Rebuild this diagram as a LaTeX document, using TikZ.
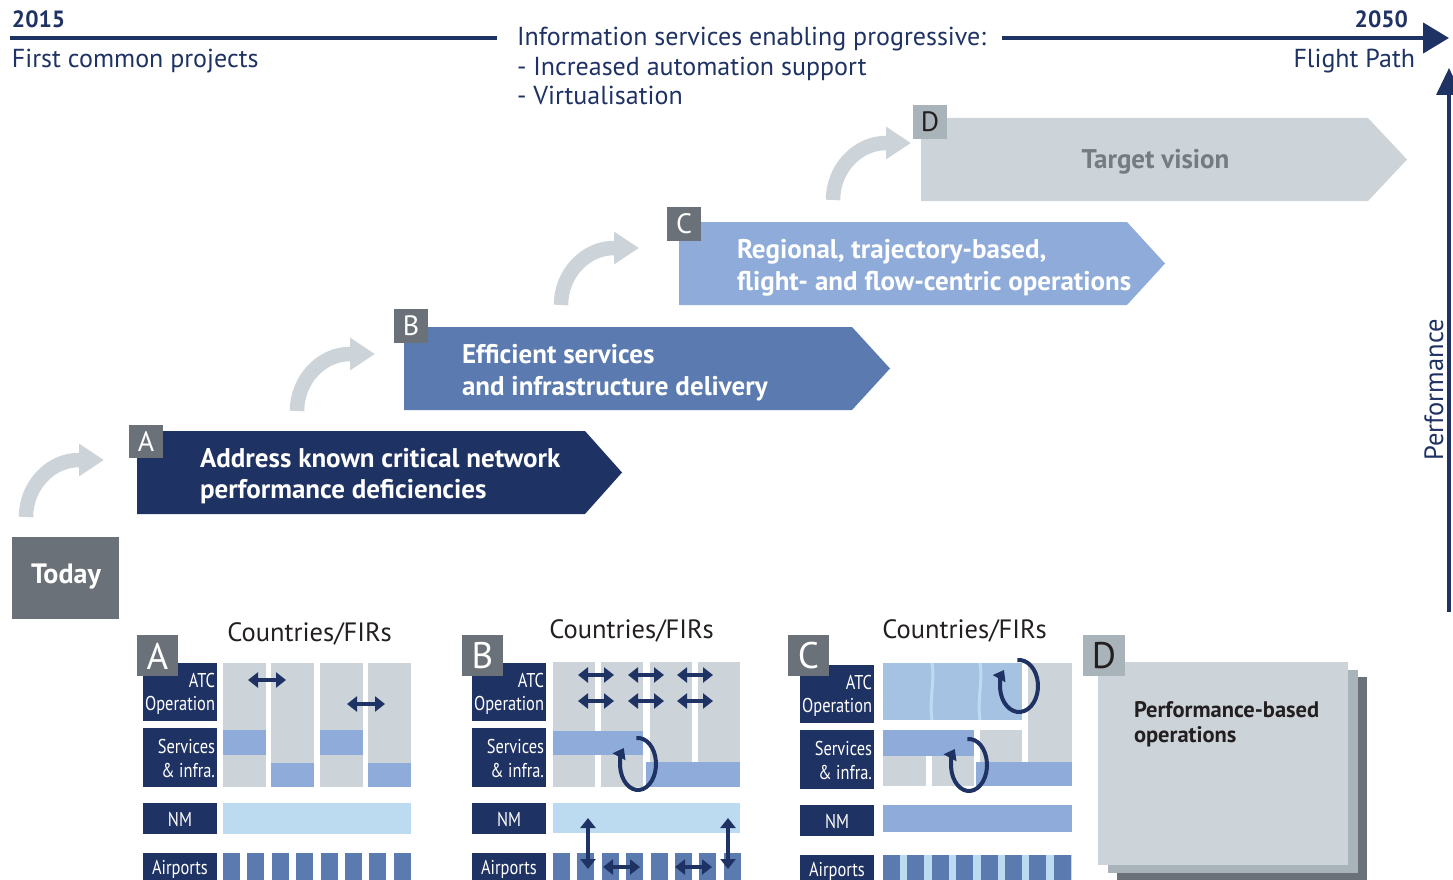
\documentclass[tikz,border=0pt]{standalone}
\usepackage{fontspec}
\setmainfont{PT Sans}
\newfontfamily\condfont[FakeStretch=0.82]{PT Sans}
\usetikzlibrary{arrows.meta,calc}
\definecolor{navy}{HTML}{1F3264}
\definecolor{slate}{HTML}{6B7178}
\definecolor{lgray}{HTML}{CCD4D9}
\definecolor{mgray}{HTML}{A9B3BA}
\definecolor{steel}{HTML}{5A7AB0}
\definecolor{cblue}{HTML}{8EABD9}
\definecolor{pale}{HTML}{BDDBF0}
\definecolor{atcc}{HTML}{A5C2E2}
\definecolor{txt}{HTML}{231F20}
\definecolor{tgray}{HTML}{747C82}
\newcommand\fsz[1]{\fontsize{#1}{#1}\selectfont}
\tikzset{
  plain/.style={inner sep=0pt, outer sep=0pt},
  toptxt/.style={plain, text=navy, font=\fsz{26}},
  stairtxt/.style={plain, text=white, font=\bfseries\fsz{27}, anchor=base west},
  stairlbl/.style={plain, text=white, font=\fsz{28}},
  panellbl/.style={plain, text=white, font=\fsz{37}},
  rowtxt/.style={plain, text=white, font=\condfont\fsz{20}},
  ctry/.style={plain, text=txt, font=\fsz{26.5}, anchor=base},
  dbl/.style={navy, line width=4pt, {Triangle[length=10pt,width=15pt]}-{Triangle[length=10pt,width=15pt]}},
  circarrow/.style={navy, line width=4pt, -{Triangle[length=10pt,width=14pt]}},
  bendarrow/.style={lgray, line width=14.5pt, -{Triangle[length=25pt,width=31pt]}},
}
\begin{document}
\begin{tikzpicture}[x=1pt,y=-1pt]
\useasboundingbox (0,0) rectangle (1453,880);

% ---------- timeline ----------
\node[toptxt, font=\bfseries\fsz{23.5}, anchor=base west] (y2015) at (12,28) {2015};
\node[toptxt, anchor=base west] (fcp) at (12,68) {First common projects};
\coordinate (tlA) at (10,38);
\coordinate (tlB) at (497,38);
\draw[navy, line width=4.5pt] (tlA) -- (tlB);
\node[toptxt, anchor=base west] (info1) at (517,46) {Information services enabling progressive:};
\node[toptxt, anchor=base west] (info2) at (517,76) {- Increased automation support};
\node[toptxt, anchor=base west] (info3) at (517,105) {- Virtualisation};
\coordinate (tlC) at (1002,38);
\coordinate (tlD) at (1449,38);
\draw[navy, line width=4.5pt, -{Triangle[length=26pt,width=30pt]}] (tlC) -- (tlD);
\node[toptxt, font=\bfseries\fsz{23.5}, anchor=base east] (y2050) at (1408,28) {2050};
\node[toptxt, anchor=base east] (fpath) at (1415,68) {Flight Path};

% performance axis
\coordinate (pfA) at (1449,612);
\coordinate (pfB) at (1449,68);
\draw[navy, line width=3.5pt, -{Triangle[length=27pt,width=25pt]}] (pfA) -- (pfB);
\node[toptxt, font=\fsz{26.5}, rotate=90] (perf) at (1434,390) {Performance};

% ---------- stair arrows ----------
\fill[navy] (137,431) -- (585,431) -- (622,472.5) -- (585,514) -- (137,514) -- cycle;
\fill[steel] (404,327) -- (852,327) -- (890,368.5) -- (852,410) -- (404,410) -- cycle;
\fill[cblue] (679,222) -- (1127,222) -- (1165,263.5) -- (1127,305) -- (679,305) -- cycle;
\fill[lgray] (921,118) -- (1368,118) -- (1407,159.5) -- (1368,201) -- (921,201) -- cycle;

\fill[slate] (129,425) rectangle (163,458);
\node[stairlbl] (sA) at (146,441.5) {A};
\fill[slate] (394,309) rectangle (428,343);
\node[stairlbl] (sB) at (411,326) {B};
\fill[slate] (667,207) rectangle (701,241);
\node[stairlbl] (sC) at (684,224) {C};
\fill[mgray] (913,105) rectangle (947,139);
\node[stairlbl, text=txt] (sD) at (930,122) {D};

\node[stairtxt] (tA1) at (200,467) {Address known critical network};
\node[stairtxt] (tA2) at (200,498) {performance deficiencies};
\node[stairtxt] (tB1) at (462,363) {Efficient services};
\node[stairtxt] (tB2) at (462,395) {and infrastructure delivery};
\node[stairtxt] (tC1) at (737,258) {Regional, trajectory-based,};
\node[stairtxt] (tC2) at (737,290) {flight- and flow-centric operations};
\node[stairtxt, text=tgray, anchor=base] (tD) at (1155.5,168) {Target vision};

% today
\fill[slate] (12,537) rectangle (119,619);
\node[plain, text=white, font=\bfseries\fsz{28}] (today) at (66,577) {Today};

% curved step arrows
\foreach \sx/\sy/\nm in {26/517/one, 297/411/two, 561/305/three, 833/200/four}{
  \coordinate (\nm s) at (\sx,\sy);
  \coordinate (\nm m) at ({\sx+53},{\sy-57});
  \coordinate (\nm e) at ({\sx+78},{\sy-57});
  \draw[bendarrow] (\nm s) .. controls ({\sx},{\sy-31}) and ({\sx+24},{\sy-57}) .. (\nm m) -- (\nm e);
}

% ---------- bottom panels: row labels ----------
\foreach \px/\dy/\nm in {143/0/a, 472/0/b, 800/2/c}{
  \fill[navy] (\px,{663+\dy}) rectangle ++(74,58);
  \node[rowtxt, anchor=base east] (\nm-atc1) at ({\px+72},{687+\dy}) {ATC};
  \node[rowtxt, anchor=base east] (\nm-atc2) at ({\px+72},{710+\dy}) {Operation};
  \fill[navy] (\px,{728+\dy}) rectangle ++(74,59);
  \node[rowtxt, anchor=base east] (\nm-srv1) at ({\px+72},{753+\dy}) {Services};
  \node[rowtxt, anchor=base east] (\nm-srv2) at ({\px+72},{777+\dy}) {\& infra.};
  \fill[navy] (\px,{803+\dy}) rectangle ++(74,31);
  \node[rowtxt, anchor=base] (\nm-nm) at ({\px+37},{826+\dy}) {NM};
  \fill[navy] (\px,{853+\dy}) rectangle ++(74,30);
  \node[rowtxt, anchor=base] (\nm-ap) at ({\px+37},{874+\dy}) {Airports};
}

\node[ctry] (ctryA) at (309.5,641) {Countries/FIRs};
\node[ctry] (ctryB) at (631.5,638) {Countries/FIRs};
\node[ctry] (ctryC) at (964.5,638) {Countries/FIRs};

% ---------- panel A ----------
\foreach \cx in {223,271,320,368}{
  \fill[lgray] (\cx,663) rectangle ++(43,124);
}
\fill[cblue] (223,730) rectangle ++(43,25);
\fill[cblue] (271,763) rectangle ++(43,24);
\fill[cblue] (320,730) rectangle ++(43,25);
\fill[cblue] (368,763) rectangle ++(43,24);
\draw[dbl] (248,680) -- (286,680);
\draw[dbl] (347,704) -- (385,704);
\fill[pale] (223,803) rectangle (411,834);
\foreach \i in {0,...,7}{
  \fill[steel] ({223+\i*24.4},853) rectangle ++(17,30);
}

% ---------- panel B ----------
\foreach \cx in {553,601,650,698}{
  \fill[lgray] (\cx,662) rectangle ++(42,125);
}
\fill[cblue] (553,731) rectangle (643,755);
\fill[cblue] (646,762) rectangle (740,787);
\foreach \ax in {578,628,677}{
  \draw[dbl] (\ax,675) -- ({\ax+36},675);
  \draw[dbl] (\ax,701) -- ({\ax+36},701);
}
\draw[circarrow] ($(638,764)+(-95:18 and 26)$) arc[start angle=-95, end angle=218, x radius=18, y radius=26];
\fill[pale] (553,803) rectangle (740,833);
\foreach \i in {0,...,7}{
  \fill[steel] ({553+\i*24.4},853) rectangle ++(17,30);
}
\draw[dbl] (588,818) -- (588,869);
\draw[dbl] (728,818) -- (728,869);
\draw[dbl] (603,867) -- (640,867);
\draw[dbl] (675,867) -- (712,867);

% ---------- panel C ----------
\fill[atcc] (883,663) rectangle (1022,720);
\draw[pale, line width=3pt] (932,663) .. controls (935,680) and (929,700) .. (932,720);
\draw[pale, line width=3pt] (980,663) .. controls (983,680) and (977,700) .. (980,720);
\fill[lgray] (1028,663) rectangle (1072,762);
\fill[cblue] (883,730) rectangle (974,756);
\fill[lgray] (980,730) rectangle (1022,762);
\fill[lgray] (883,756) rectangle (926,786);
\fill[lgray] (932,756) rectangle (974,786);
\fill[cblue] (976,762) rectangle (1072,786);
\draw[circarrow] ($(1019,686)+(-95:19 and 26)$) arc[start angle=-95, end angle=218, x radius=19, y radius=26];
\draw[circarrow] ($(969,765)+(-95:18 and 26)$) arc[start angle=-95, end angle=218, x radius=18, y radius=26];
\fill[cblue] (883,805) rectangle (1072,832);
\fill[pale] (883,855) rectangle (1072,883);
\foreach \i in {0,...,7}{
  \fill[steel] ({883+\i*24.4},855) rectangle ++(17,28);
}

% ---------- panel D ----------
\fill[slate] (1117,677) rectangle (1367,883);
\fill[mgray] (1108,670) rectangle (1358,873);
\fill[lgray] (1098,662) rectangle (1348,865);
\node[plain, text=txt, font=\bfseries\fsz{22.5}, anchor=base west] (pbo1) at (1134,717) {Performance-based};
\node[plain, text=txt, font=\bfseries\fsz{22.5}, anchor=base west] (pbo2) at (1134,742) {operations};

% panel letter boxes
\fill[slate] (137,635) rectangle (178,676);
\node[panellbl] (pA) at (157.5,656) {A};
\fill[slate] (462,635) rectangle (503,676);
\node[panellbl] (pB) at (482.5,656) {B};
\fill[slate] (788,635) rectangle (829,676);
\node[panellbl] (pC) at (808.5,656) {C};
\fill[mgray] (1083,635) rectangle (1125,676);
\node[panellbl, text=txt] (pD) at (1104,656) {D};
\end{tikzpicture}
\end{document}
